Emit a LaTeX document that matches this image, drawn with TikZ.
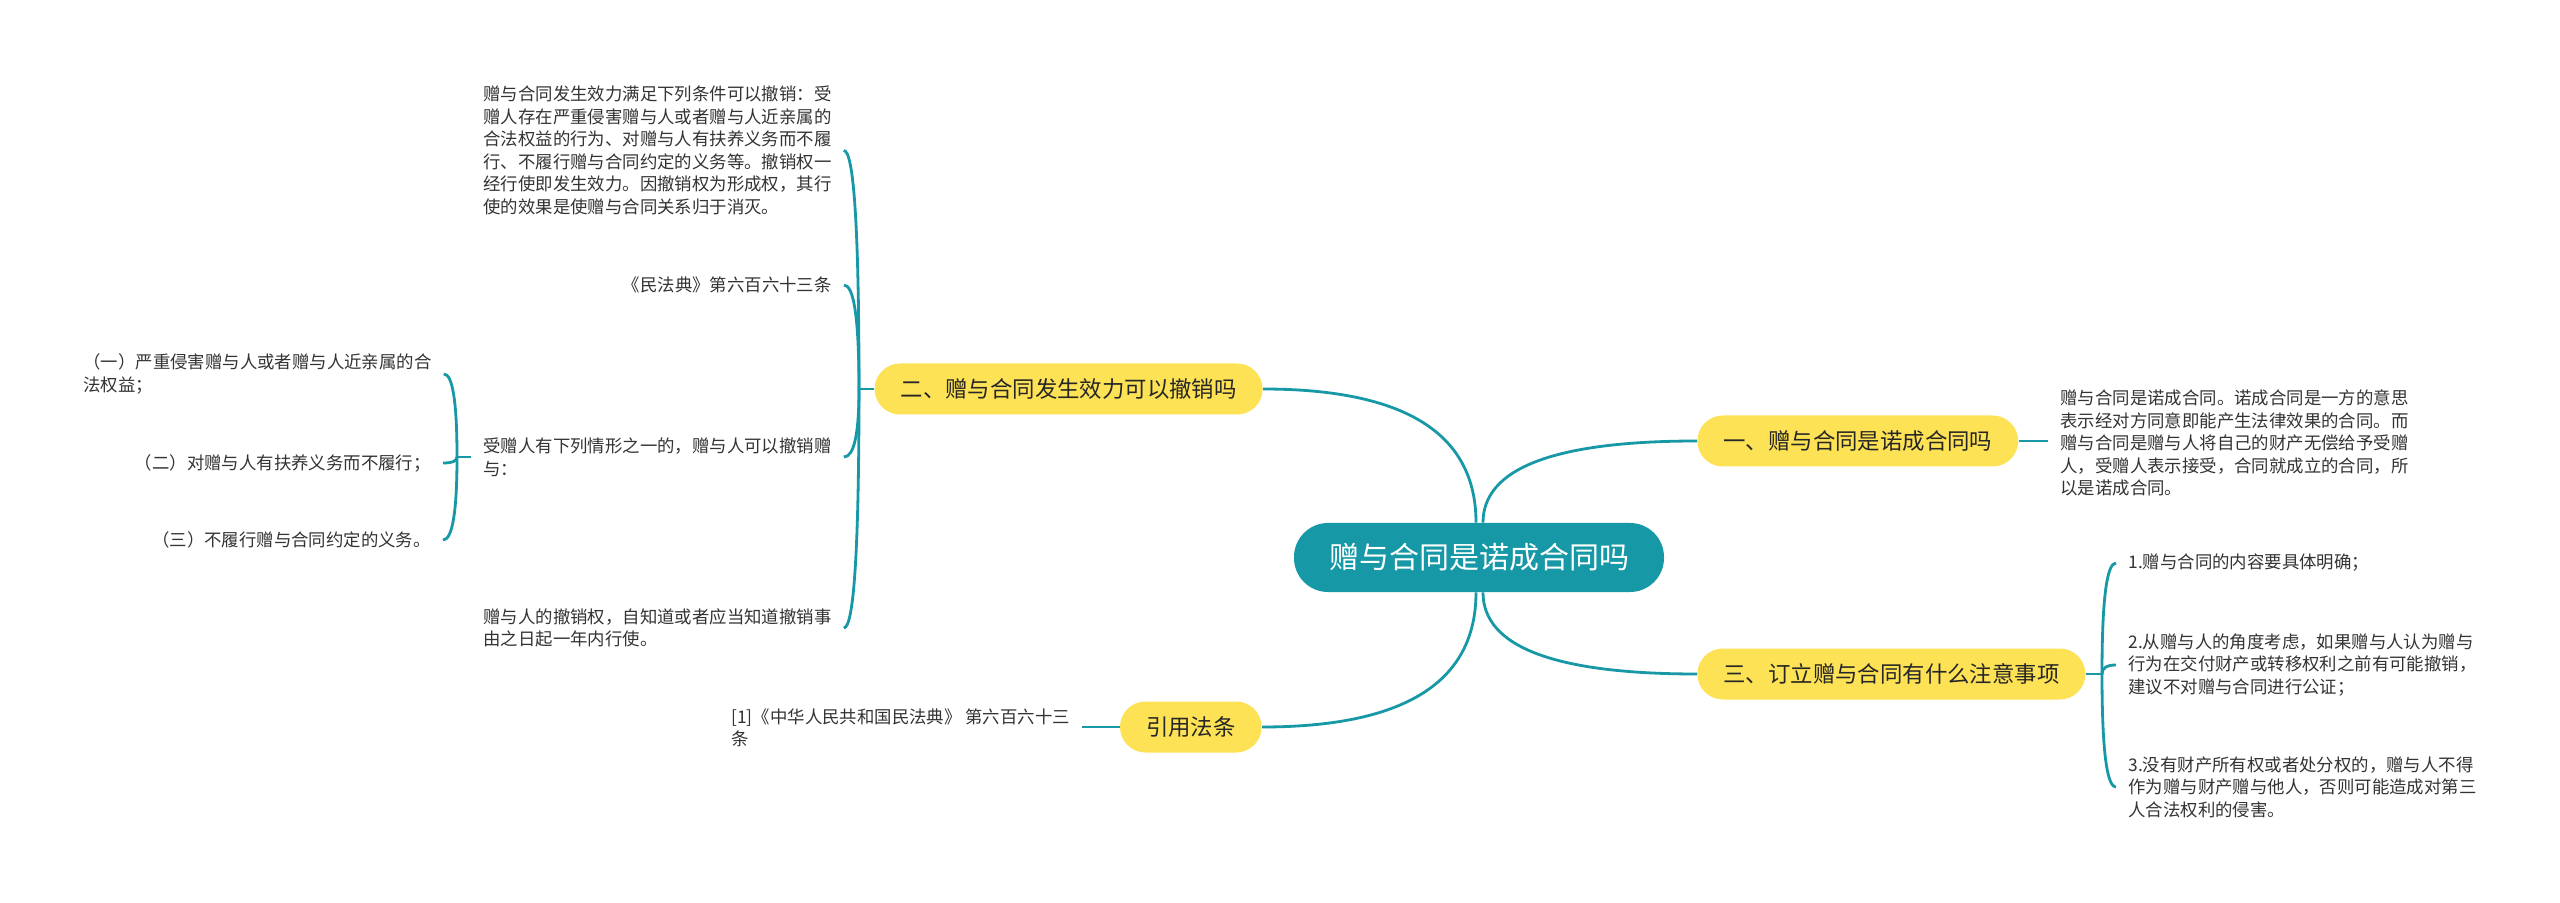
\documentclass[tikz,border=0pt]{standalone}
\usepackage{fontspec}
\setmainfont{Noto Sans CJK SC}
\usetikzlibrary{calc}
\definecolor{tealc}{RGB}{22,152,166}
\definecolor{yelc}{RGB}{253,226,86}
\definecolor{txtc}{RGB}{51,51,51}
\newcommand\qcurve[2]{\draw[conn] (#1) .. controls ($(#1)!0.667!(#1|-#2)$) and ($(#2)!0.667!(#1|-#2)$) .. (#2);}
\begin{document}
\begin{tikzpicture}[x=0.5pt,y=-0.5pt,
 conn/.style={draw=tealc,line width=1.4pt},
 central/.style={fill=tealc,text=white,rounded corners=17pt,minimum height=34.5pt,inner xsep=17.5pt,inner ysep=0pt,font=\fontsize{15pt}{18pt}\selectfont},
 branch/.style={fill=yelc,text=black!85,rounded corners=12.75pt,minimum height=25.5pt,inner xsep=13pt,inner ysep=0pt,font=\fontsize{11.2pt}{13pt}\selectfont},
 leaf/.style={text=txtc,align=left,inner xsep=6pt,inner ysep=0pt,font=\fontsize{8.7pt}{11.25pt}\selectfont},
]
\fill[white] (0,0) rectangle (2560,903);
\useasboundingbox (0,0) rectangle (2560,903);

% main and branch nodes
\node[central] (c) at (1479,557.5) {赠与合同是诺成合同吗};
\node[branch,anchor=east] (b2) at (1263,389) {二、赠与合同发生效力可以撤销吗};
\node[branch,anchor=west] (b1) at (1697,441) {一、赠与合同是诺成合同吗};
\node[branch,anchor=west] (b3) at (1697,674) {三、订立赠与合同有什么注意事项};
\node[branch,anchor=east] (b4) at (1262,727) {引用法条};

% leaves of branch 2
\node[leaf,anchor=west] (A) at (471,150.5) {赠与合同发生效力满足下列条件可以撤销：受\\赠人存在严重侵害赠与人或者赠与人近亲属的\\合法权益的行为、对赠与人有扶养义务而不履\\行、不履行赠与合同约定的义务等。撤销权一\\经行使即发生效力。因撤销权为形成权，其行\\使的效果是使赠与合同关系归于消灭。};
\node[leaf,anchor=east] (B) at (844,285) {《民法典》第六百六十三条};
\node[leaf,anchor=west] (C) at (471,457) {受赠人有下列情形之一的，赠与人可以撤销赠\\与：};
\node[leaf,anchor=west] (D) at (471,628) {赠与人的撤销权，自知道或者应当知道撤销事\\由之日起一年内行使。};
\node[leaf,anchor=west] (E1) at (71,374) {（一）严重侵害赠与人或者赠与人近亲属的合\\法权益；};
\node[leaf,anchor=east] (E2) at (443,463) {（二）对赠与人有扶养义务而不履行；};
\node[leaf,anchor=east] (E3) at (443,540) {（三）不履行赠与合同约定的义务。};

% leaf of branch 1
\node[leaf,anchor=west] (F) at (2048,443) {赠与合同是诺成合同。诺成合同是一方的意思\\表示经对方同意即能产生法律效果的合同。而\\赠与合同是赠与人将自己的财产无偿给予受赠\\人，受赠人表示接受，合同就成立的合同，所\\以是诺成合同。};

% leaves of branch 3
\node[leaf,anchor=west] (G1) at (2116,563) {1.赠与合同的内容要具体明确；};
\node[leaf,anchor=west] (G2) at (2116,665) {2.从赠与人的角度考虑，如果赠与人认为赠与\\行为在交付财产或转移权利之前有可能撤销，\\建议不对赠与合同进行公证；};
\node[leaf,anchor=west] (G3) at (2116,787) {3.没有财产所有权或者处分权的，赠与人不得\\作为赠与财产赠与他人，否则可能造成对第三\\人合法权利的侵害。};

% leaf of branch 4
\node[leaf,anchor=west] (H) at (719,728) {[1]《中华人民共和国民法典》 第六百六十三\\条};

% connectors from centre
\coordinate (cnl) at ([xshift=-1.5pt]c.north);
\coordinate (cnr) at ([xshift=2pt]c.north);
\coordinate (csl) at ([xshift=-1.5pt]c.south);
\coordinate (csr) at ([xshift=2pt]c.south);
\qcurve{cnl}{b2.east}
\qcurve{cnr}{b1.west}
\qcurve{csl}{b4.east}
\qcurve{csr}{b3.west}

% branch 2
\coordinate (T2) at (859,389);
\draw[conn] (b2.west) -- (T2);
\qcurve{T2}{A.east}
\qcurve{T2}{B.east}
\qcurve{T2}{C.east}
\qcurve{T2}{D.east}
\coordinate (TC) at (457,457);
\draw[conn] (C.west) -- (TC);
\qcurve{TC}{E1.east}
\qcurve{TC}{E2.east}
\qcurve{TC}{E3.east}

% branch 1
\draw[conn] (b1.east) -- (b1.east -| F.west);

% branch 3
\coordinate (T3) at (2102,674);
\draw[conn] (b3.east) -- (T3);
\qcurve{T3}{G1.west}
\qcurve{T3}{G2.west}
\qcurve{T3}{G3.west}

% branch 4
\draw[conn] (b4.west) -- (b4.west -| H.east);
\end{tikzpicture}
\end{document}
